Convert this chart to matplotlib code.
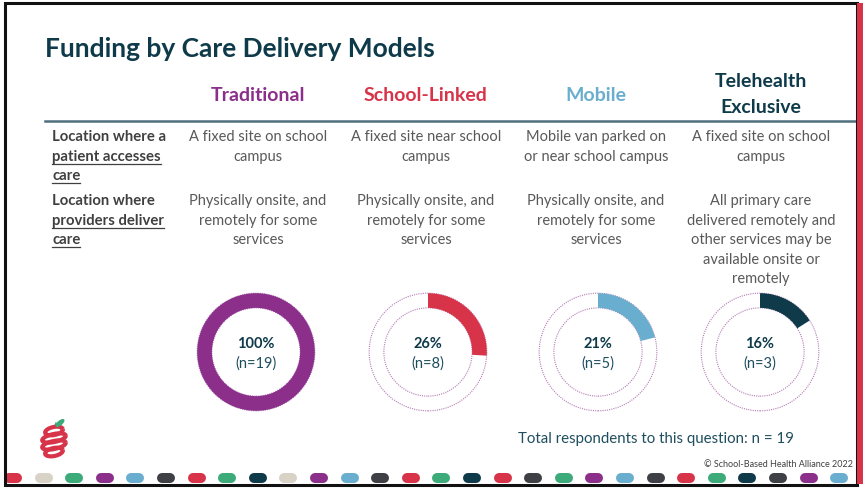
import matplotlib
matplotlib.use("Agg")
import matplotlib.pyplot as plt
from matplotlib.patches import Circle, Rectangle, Arc, Ellipse

# ---------------- data ----------------
title = "Funding by Care Delivery Models"
models = ["Traditional", "School-Linked", "Mobile", "Telehealth\nExclusive"]
model_colors = ["#8B2F8B", "#D7344A", "#6AAECF", "#0E3A4A"]
row1_label = ["Location where a", "patient accesses", "care"]
row1_underline = [False, True, True]
row2_label = ["Location where", "providers deliver", "care"]
row2_underline = [False, True, True]
patient_access = [
    "A fixed site on school\ncampus",
    "A fixed site near school\ncampus",
    "Mobile van parked on\nor near school campus",
    "A fixed site on school\ncampus",
]
provider_delivery = [
    "Physically onsite, and\nremotely for some\nservices",
    "Physically onsite, and\nremotely for some\nservices",
    "Physically onsite, and\nremotely for some\nservices",
    "All primary care\ndelivered remotely and\nother services may be\navailable onsite or\nremotely",
]
percentages = [100, 26, 21, 16]
counts = [19, 8, 5, 3]
total_n = 19
footer_note = "Total respondents to this question: n = "
copyright_text = "© School-Based Health Alliance 2022"

# ---------------- style ----------------
W, H = 863, 488
FONT = "Lato"
NAVY = "#0E3A4A"
GRAY = "#595959"
DARK = "#404040"
dot_colors = ["#D7344A", "#D9D3C7", "#3DAA7A", "#8B2F8B", "#6AAECF", "#3E4045",
              "#D7344A", "#3DAA7A", "#0E3A4A", "#D9D3C7", "#8B2F8B", "#6AAECF",
              "#3E4045", "#D7344A", "#3DAA7A", "#0E3A4A", "#D7344A", "#3E4045",
              "#3DAA7A", "#8B2F8B", "#6AAECF", "#3E4045", "#D7344A", "#3DAA7A",
              "#0E3A4A", "#3E4045", "#8B2F8B", "#6AAECF"]
col_x = [258, 426, 596, 761]
donut_x = [256, 428, 598, 760]
donut_y = 352
donut_r = 60

fig = plt.figure(figsize=(W / 100, H / 100), dpi=100)
ax = fig.add_axes([0, 0, 1, 1])
ax.set_xlim(0, W)
ax.set_ylim(H, 0)
ax.axis("off")

# bottom dots (pills)
for k, c in enumerate(dot_colors):
    x = 13 + 30.6 * k
    ax.plot([x - 4, x + 4], [478, 478], color=c, lw=7.2, solid_capstyle="round", zorder=3)
ax.add_patch(Rectangle((0, 0), 6, H, fc="white", ec="none", zorder=4))

# frame
ax.add_patch(Rectangle((5, 3), 852, 482, fill=False, ec="#111111", lw=2.2, zorder=5))
ax.add_patch(Rectangle((857, 3), 6, 481, fc="#D7344A", ec="none", zorder=6))

# title
ax.text(45, 57, title, fontsize=19, fontweight="bold", color=NAVY,
        family=FONT, ha="left", va="baseline")

# column headers
for x, name, c in zip(col_x, models, model_colors):
    lines = name.split("\n")
    if len(lines) == 1:
        ax.text(x, 101, lines[0], fontsize=14, fontweight="bold", color=c,
                family=FONT, ha="center", va="baseline")
    else:
        for i, ln in enumerate(lines):
            ax.text(x, 87 + 26 * i, ln, fontsize=14, fontweight="bold", color=c,
                    family=FONT, ha="center", va="baseline")

ax.plot([45, 855], [121, 121], color="#4F6F7F", lw=1.8)

fig.canvas.draw()
renderer = fig.canvas.get_renderer()
inv = ax.transData.inverted()

def label_lines(lines, underline, y0):
    for i, (ln, u) in enumerate(zip(lines, underline)):
        y = y0 + 19.5 * i
        t = ax.text(52, y, ln, fontsize=10.7, fontweight="bold", color=DARK,
                    family=FONT, ha="left", va="baseline")
        if u:
            bb = t.get_window_extent(renderer=renderer)
            (x0, _), (x1, _) = inv.transform([(bb.x0, bb.y0), (bb.x1, bb.y0)])
            ax.plot([x0, x1], [y + 3, y + 3], color=DARK, lw=0.9)

label_lines(row1_label, row1_underline, 141)
label_lines(row2_label, row2_underline, 205)

def cell(x, text, y0):
    for i, ln in enumerate(text.split("\n")):
        ax.text(x, y0 + 19.5 * i, ln, fontsize=10.5, color=GRAY, family=FONT,
                ha="center", va="baseline")

for x, t in zip(col_x, patient_access):
    cell(x, t, 141)
for x, t in zip(col_x, provider_delivery):
    cell(x, t, 205)

# donuts
for cx, p, n, c in zip(donut_x, percentages, counts, model_colors):
    dax = fig.add_axes([(cx - donut_r) / W, 1 - (donut_y + donut_r) / H,
                        2 * donut_r / W, 2 * donut_r / H])
    dax.axis("off")
    for rr in (1.0, 0.75):
        dax.add_patch(Circle((0, 0), rr, fill=False, ec="#B47CB4", lw=0.8, ls=(0, (1, 1))))
    vals = [p, 100 - p] if p < 100 else [p]
    cols = [c, "none"] if p < 100 else [c]
    dax.pie(vals, colors=cols, startangle=90, counterclock=False, radius=1.0,
            wedgeprops=dict(width=0.25, edgecolor="none"))
    dax.set_xlim(-1.02, 1.02)
    dax.set_ylim(-1.02, 1.02)
    dax.set_aspect("equal")
    ax.text(cx, donut_y - 4, f"{p}%", fontsize=10.5, fontweight="bold", color=NAVY,
            family=FONT, ha="center", va="baseline")
    ax.text(cx, donut_y + 16, f"(n={n})", fontsize=10.5, color="#1F4E5F",
            family=FONT, ha="center", va="baseline")

ax.text(518, 443, f"{footer_note}{total_n}", fontsize=10.8, color="#1F4E5F",
        family=FONT, ha="left", va="baseline")
ax.text(853, 467, copyright_text, fontsize=6.5, color=DARK, family=FONT,
        ha="right", va="baseline")

# apple logo
for i, (yy, w) in enumerate([(431, 18), (438, 24), (445, 24), (452, 18)]):
    ax.add_patch(Arc((54, yy), w, 8, theta1=0, theta2=360, angle=-12,
                     color="#D7344A", lw=3.0, zorder=3))
ax.add_patch(Ellipse((60, 423), 11, 5, angle=-40, fc="#3DAA7A", ec="none", zorder=3))
ax.plot([54, 56], [428, 423], color="#3DAA7A", lw=1)

fig.savefig("out.png", dpi=100)
